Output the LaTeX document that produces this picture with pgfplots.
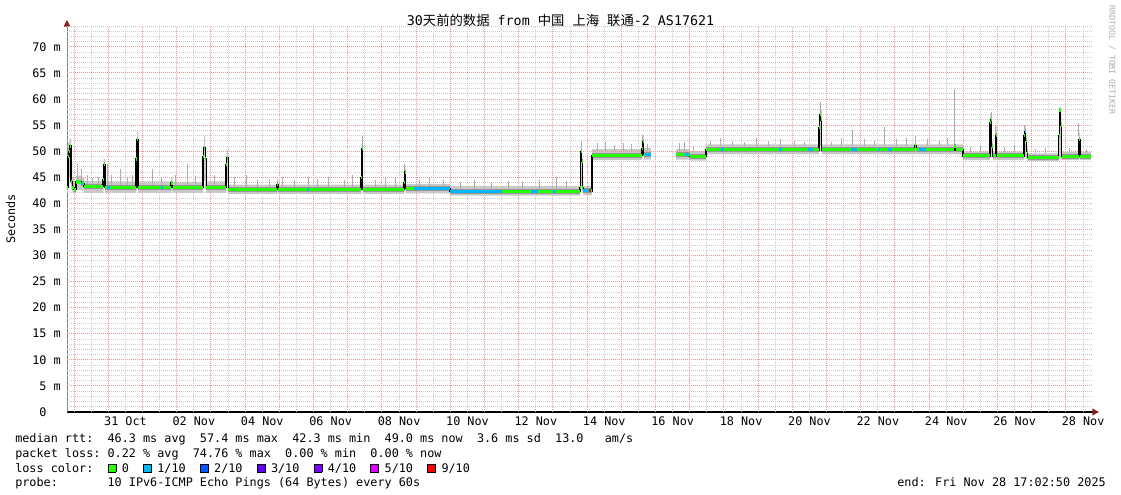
\documentclass[border=0pt]{standalone}
\usepackage{pgfplots}
\pgfplotsset{compat=1.18}
\usepackage{pgfplotstable}
\usepgfplotslibrary{fillbetween}
\usetikzlibrary{arrows.meta}
\usepackage{fontspec}
\setmainfont{DejaVu Sans Mono}
\newfontfamily\cjk{Noto Sans CJK SC}

\definecolor{gridred}{RGB}{240,150,150}
\definecolor{gridgray}{RGB}{205,205,205}
\definecolor{smoke}{RGB}{200,200,200}
\definecolor{smokedark}{RGB}{150,150,150}
\definecolor{spike}{RGB}{172,172,172}
\definecolor{arrowred}{RGB}{140,30,30}
\definecolor{loss0}{HTML}{26FF00}
\definecolor{loss1}{HTML}{00B8FF}
\definecolor{loss2}{HTML}{0059FF}
\definecolor{loss3}{HTML}{5E00FF}
\definecolor{loss4}{HTML}{7E00FF}
\definecolor{loss5}{HTML}{DD00FF}
\definecolor{loss9}{HTML}{FF0000}

\newcommand\txt{\fontsize{8.85pt}{10pt}\selectfont}
\newcommand\lbox[1]{\makebox[0.602em][l]{\fboxsep=0pt\fboxrule=0.6pt\fcolorbox{black}{#1}{\rule{0pt}{5.4pt}\rule{5.4pt}{0pt}}}}

% x in days after 30 Oct 00:00
\pgfplotstableread{
x med lo hi
-0.21 43.0 42.0 44.5
-0.18 49.0 44.0 51.5
-0.15 50.0 45.0 52.0
-0.12 51.0 45.5 52.5
-0.09 44.2 42.5 48.0
-0.05 43.0 42.0 45.0
-0.01 42.6 41.8 44.0
0.05 44.1 42.6 45.3
0.20 43.8 42.5 45.0
0.29 43.2 42.0 44.3
0.84 44.5 42.3 46.0
0.86 47.4 43.0 48.6
0.90 43.1 42.0 44.2
1.81 48.5 42.5 50.0
1.83 52.2 44.0 54.0
1.87 43.1 42.0 44.2
2.83 43.9 42.3 45.0
2.88 43.0 42.0 44.1
3.77 49.0 43.0 51.0
3.79 50.6 44.5 53.0
3.83 48.5 43.0 50.2
3.86 43.1 42.0 44.2
4.44 47.5 43.0 49.0
4.46 48.7 44.0 50.2
4.51 42.6 41.8 43.6
5.93 43.6 42.0 44.6
5.97 42.6 41.8 43.6
8.39 45.0 42.3 47.0
8.41 50.5 43.0 51.5
8.44 42.7 41.8 43.6
9.64 44.0 42.2 45.0
9.66 46.0 42.5 47.0
9.69 42.8 41.9 43.7
10.99 42.3 41.5 43.3
14.79 43.0 42.0 44.0
14.81 50.0 43.0 51.0
14.84 48.0 42.5 49.5
14.86 43.0 42.0 44.3
14.89 42.4 41.6 43.3
15.14 49.2 48.3 50.4
16.60 50.5 48.5 52.0
16.62 51.8 49.0 53.2
16.65 49.4 48.4 50.6
16.86 49.4 48.4 50.6
}\dataA

\pgfplotstableread{
x med lo hi
17.60 49.3 48.4 50.4
18.00 49.0 48.2 50.0
18.47 50.25 49.4 51.3
21.78 54.5 50.0 56.0
21.80 57.0 51.0 59.2
21.83 56.0 50.5 58.0
21.86 50.25 49.4 51.3
24.58 51.0 49.5 52.0
24.62 50.25 49.4 51.3
25.74 50.9 49.5 51.5
25.77 50.25 49.4 51.3
25.99 49.1 48.3 49.9
26.78 55.5 49.0 57.0
26.80 56.0 49.5 57.4
26.83 51.0 48.8 52.0
26.86 49.1 48.3 49.9
26.95 53.0 48.5 55.0
26.97 49.1 48.3 49.9
27.77 53.0 48.6 54.0
27.79 53.8 49.0 55.0
27.82 52.0 48.6 53.0
27.85 50.0 48.3 51.0
27.88 48.85 48.1 49.6
28.79 53.0 48.5 54.5
28.81 57.9 49.0 58.5
28.84 55.0 48.5 56.5
28.87 49.0 48.3 49.8
29.38 52.2 48.5 53.5
29.41 49.0 48.3 49.8
29.72 49.0 48.3 49.8
}\dataB

\begin{document}
\begin{tikzpicture}
\path (0,0) rectangle (840.75pt,370.5pt);
\begin{axis}[
  at={(50.25pt,61.5pt)}, anchor=south west,
  scale only axis, width=769.5pt, height=289.5pt,
  xmin=-0.21, xmax=29.79, ymin=0, ymax=74,
  axis x line*=bottom, axis y line*=left,
  x axis line style={color=black, line width=1.1pt, shorten >=-4.5pt, -{Triangle[length=5pt,width=5pt,color=arrowred]}},
  y axis line style={color=gray, line width=0.75pt, shorten >=-4.5pt, -{Triangle[length=5pt,width=5pt,color=arrowred]}},
  xtick={0,1,...,29}, xticklabel={\relax},
  extra x ticks={1.5,3.5,5.5,7.5,9.5,11.5,13.5,15.5,17.5,19.5,21.5,23.5,25.5,27.5,29.5},
  extra x tick labels={31 Oct,02 Nov,04 Nov,06 Nov,08 Nov,10 Nov,12 Nov,14 Nov,16 Nov,18 Nov,20 Nov,22 Nov,24 Nov,26 Nov,28 Nov},
  extra x tick style={grid=none, xticklabel style={anchor=base, inner sep=0pt, yshift=-9.75pt}},
  ytick={0,5,...,70},
  yticklabels={\hphantom{0}0\hphantom{~m},\hphantom{0}5~m,10~m,15~m,20~m,25~m,30~m,35~m,40~m,45~m,50~m,55~m,60~m,65~m,70~m},
  yticklabel style={anchor=east, inner sep=0pt, xshift=-4.5pt},
  tick label style={font=\txt},
  tick align=inside, major tick length=0pt, minor tick length=0pt,
  unbounded coords=jump,
]
% grid: minor (grey) then major (red), dotted
\addplot[gridgray, line width=0.65pt, dash pattern=on 0.75pt off 0.75pt, ycomb, mark=none, forget plot] coordinates {
(0.5,74)(1.5,74)(2.5,74)(3.5,74)(4.5,74)(5.5,74)(6.5,74)(7.5,74)(8.5,74)(9.5,74)
(10.5,74)(11.5,74)(12.5,74)(13.5,74)(14.5,74)(15.5,74)(16.5,74)(17.5,74)(18.5,74)(19.5,74)
(20.5,74)(21.5,74)(22.5,74)(23.5,74)(24.5,74)(25.5,74)(26.5,74)(27.5,74)(28.5,74)(29.5,74)};
\addplot[gridgray, line width=0.65pt, dash pattern=on 0.75pt off 0.75pt, mark=none, forget plot] coordinates {
(-0.21,1)(29.79,1)(29.79,nan)(-0.21,2)(29.79,2)(29.79,nan)(-0.21,3)(29.79,3)(29.79,nan)(-0.21,4)(29.79,4)(29.79,nan)
(-0.21,6)(29.79,6)(29.79,nan)(-0.21,7)(29.79,7)(29.79,nan)(-0.21,8)(29.79,8)(29.79,nan)(-0.21,9)(29.79,9)(29.79,nan)
(-0.21,11)(29.79,11)(29.79,nan)(-0.21,12)(29.79,12)(29.79,nan)(-0.21,13)(29.79,13)(29.79,nan)(-0.21,14)(29.79,14)(29.79,nan)
(-0.21,16)(29.79,16)(29.79,nan)(-0.21,17)(29.79,17)(29.79,nan)(-0.21,18)(29.79,18)(29.79,nan)(-0.21,19)(29.79,19)(29.79,nan)
(-0.21,21)(29.79,21)(29.79,nan)(-0.21,22)(29.79,22)(29.79,nan)(-0.21,23)(29.79,23)(29.79,nan)(-0.21,24)(29.79,24)(29.79,nan)
(-0.21,26)(29.79,26)(29.79,nan)(-0.21,27)(29.79,27)(29.79,nan)(-0.21,28)(29.79,28)(29.79,nan)(-0.21,29)(29.79,29)(29.79,nan)
(-0.21,31)(29.79,31)(29.79,nan)(-0.21,32)(29.79,32)(29.79,nan)(-0.21,33)(29.79,33)(29.79,nan)(-0.21,34)(29.79,34)(29.79,nan)
(-0.21,36)(29.79,36)(29.79,nan)(-0.21,37)(29.79,37)(29.79,nan)(-0.21,38)(29.79,38)(29.79,nan)(-0.21,39)(29.79,39)(29.79,nan)
(-0.21,41)(29.79,41)(29.79,nan)(-0.21,42)(29.79,42)(29.79,nan)(-0.21,43)(29.79,43)(29.79,nan)(-0.21,44)(29.79,44)(29.79,nan)
(-0.21,46)(29.79,46)(29.79,nan)(-0.21,47)(29.79,47)(29.79,nan)(-0.21,48)(29.79,48)(29.79,nan)(-0.21,49)(29.79,49)(29.79,nan)
(-0.21,51)(29.79,51)(29.79,nan)(-0.21,52)(29.79,52)(29.79,nan)(-0.21,53)(29.79,53)(29.79,nan)(-0.21,54)(29.79,54)(29.79,nan)
(-0.21,56)(29.79,56)(29.79,nan)(-0.21,57)(29.79,57)(29.79,nan)(-0.21,58)(29.79,58)(29.79,nan)(-0.21,59)(29.79,59)(29.79,nan)
(-0.21,61)(29.79,61)(29.79,nan)(-0.21,62)(29.79,62)(29.79,nan)(-0.21,63)(29.79,63)(29.79,nan)(-0.21,64)(29.79,64)(29.79,nan)
(-0.21,66)(29.79,66)(29.79,nan)(-0.21,67)(29.79,67)(29.79,nan)(-0.21,68)(29.79,68)(29.79,nan)(-0.21,69)(29.79,69)(29.79,nan)
(-0.21,71)(29.79,71)(29.79,nan)(-0.21,72)(29.79,72)(29.79,nan)(-0.21,73)(29.79,73)(29.79,nan)(-0.21,74)(29.79,74)};
\addplot[gridred, line width=0.75pt, dash pattern=on 0.75pt off 0.75pt, ycomb, mark=none, forget plot] coordinates {
(0,74)(1,74)(2,74)(3,74)(4,74)(5,74)(6,74)(7,74)(8,74)(9,74)
(10,74)(11,74)(12,74)(13,74)(14,74)(15,74)(16,74)(17,74)(18,74)(19,74)
(20,74)(21,74)(22,74)(23,74)(24,74)(25,74)(26,74)(27,74)(28,74)(29,74)};
\addplot[gridred, line width=0.75pt, dash pattern=on 0.75pt off 0.75pt, mark=none, forget plot] coordinates {
(-0.21,5)(29.79,5)(29.79,nan)(-0.21,10)(29.79,10)(29.79,nan)(-0.21,15)(29.79,15)(29.79,nan)
(-0.21,20)(29.79,20)(29.79,nan)(-0.21,25)(29.79,25)(29.79,nan)(-0.21,30)(29.79,30)(29.79,nan)
(-0.21,35)(29.79,35)(29.79,nan)(-0.21,40)(29.79,40)(29.79,nan)(-0.21,45)(29.79,45)(29.79,nan)
(-0.21,50)(29.79,50)(29.79,nan)(-0.21,55)(29.79,55)(29.79,nan)(-0.21,60)(29.79,60)(29.79,nan)
(-0.21,65)(29.79,65)(29.79,nan)(-0.21,70)(29.79,70)};
% smoke bands
\addplot[name path=hA, draw=none, const plot, forget plot] table[x=x,y=hi]{\dataA};
\addplot[name path=lA, draw=none, const plot, forget plot] table[x=x,y=lo]{\dataA};
\addplot[smoke, forget plot] fill between[of=hA and lA];
\addplot[name path=hB, draw=none, const plot, forget plot] table[x=x,y=hi]{\dataB};
\addplot[name path=lB, draw=none, const plot, forget plot] table[x=x,y=lo]{\dataB};
\addplot[smoke, forget plot] fill between[of=hB and lB];
% outlier smoke
\addplot[spike, line width=0.75pt, forget plot] coordinates {
(0.10,44.0)(0.10,47.5)(0.10,nan)
(0.20,44.0)(0.20,46.5)(0.20,nan)
(0.40,43.5)(0.40,45.5)(0.40,nan)
(0.55,43.5)(0.55,44.8)(0.55,nan)
(0.70,43.5)(0.70,45.0)(0.70,nan)
(0.97,43.5)(0.97,47.5)(0.97,nan)
(1.10,43.5)(1.10,45.5)(1.10,nan)
(1.35,43.5)(1.35,46.5)(1.35,nan)
(1.55,43.5)(1.55,44.8)(1.55,nan)
(1.70,43.5)(1.70,45.5)(1.70,nan)
(2.30,43.5)(2.30,46.5)(2.30,nan)
(2.55,43.5)(2.55,45.0)(2.55,nan)
(2.95,43.5)(2.95,45.5)(2.95,nan)
(3.30,43.5)(3.30,47.5)(3.30,nan)
(3.55,43.5)(3.55,45.2)(3.55,nan)
(4.10,43.5)(4.10,45.5)(4.10,nan)
(4.70,43.0)(4.70,45.0)(4.70,nan)
(5.05,43.0)(5.05,45.5)(5.05,nan)
(5.35,43.0)(5.35,44.5)(5.35,nan)
(5.70,43.0)(5.70,44.6)(5.70,nan)
(6.10,43.0)(6.10,45.0)(6.10,nan)
(6.45,43.0)(6.45,44.5)(6.45,nan)
(6.85,43.0)(6.85,45.0)(6.85,nan)
(7.10,43.0)(7.10,44.6)(7.10,nan)
(7.45,43.0)(7.45,45.0)(7.45,nan)
(7.90,43.0)(7.90,44.5)(7.90,nan)
(8.15,43.0)(8.15,45.5)(8.15,nan)
(8.42,47.0)(8.42,53.0)(8.42,nan)
(8.80,43.0)(8.80,44.5)(8.80,nan)
(9.10,43.0)(9.10,45.0)(9.10,nan)
(9.40,43.0)(9.40,44.8)(9.40,nan)
(9.67,46.0)(9.67,47.5)(9.67,nan)
(10.10,43.2)(10.10,44.5)(10.10,nan)
(10.40,43.2)(10.40,45.0)(10.40,nan)
(10.80,43.0)(10.80,44.5)(10.80,nan)
(11.30,42.8)(11.30,44.0)(11.30,nan)
(11.70,42.8)(11.70,44.5)(11.70,nan)
(12.20,42.8)(12.20,44.0)(12.20,nan)
(12.70,42.8)(12.70,44.3)(12.70,nan)
(13.10,42.8)(13.10,44.0)(13.10,nan)
(13.60,42.8)(13.60,44.5)(13.60,nan)
(14.10,42.8)(14.10,45.0)(14.10,nan)
(14.40,42.8)(14.40,44.2)(14.40,nan)
(14.82,48.0)(14.82,52.0)(14.82,nan)
(15.30,50.0)(15.30,51.5)(15.30,nan)
(15.55,50.0)(15.55,51.8)(15.55,nan)
(15.80,50.0)(15.80,51.2)(15.80,nan)
(16.05,50.0)(16.05,51.6)(16.05,nan)
(16.30,50.0)(16.30,51.3)(16.30,nan)
(16.63,52.0)(16.63,53.2)(16.63,nan)
(16.75,50.0)(16.75,51.3)(16.75,nan)
(17.70,50.0)(17.70,51.5)(17.70,nan)
(17.85,50.0)(17.85,51.8)(17.85,nan)
(18.10,50.0)(18.10,51.0)(18.10,nan)
(18.60,51.0)(18.60,52.0)(18.60,nan)
(18.90,51.0)(18.90,52.5)(18.90,nan)
(19.25,51.0)(19.25,52.0)(19.25,nan)
(19.60,51.0)(19.60,51.8)(19.60,nan)
(19.95,51.0)(19.95,52.6)(19.95,nan)
(20.30,51.0)(20.30,52.0)(20.30,nan)
(20.65,51.0)(20.65,52.3)(20.65,nan)
(21.05,51.0)(21.05,52.0)(21.05,nan)
(21.35,51.0)(21.35,51.8)(21.35,nan)
(21.81,57.0)(21.81,59.5)(21.81,nan)
(22.15,51.0)(22.15,51.8)(22.15,nan)
(22.45,51.0)(22.45,52.5)(22.45,nan)
(22.75,51.0)(22.75,54.0)(22.75,nan)
(23.10,51.0)(23.10,52.3)(23.10,nan)
(23.40,51.0)(23.40,52.0)(23.40,nan)
(23.70,51.0)(23.70,54.7)(23.70,nan)
(24.05,51.0)(24.05,52.3)(24.05,nan)
(24.35,51.0)(24.35,52.5)(24.35,nan)
(24.60,51.0)(24.60,53.0)(24.60,nan)
(24.95,51.0)(24.95,52.4)(24.95,nan)
(25.30,51.0)(25.30,52.2)(25.30,nan)
(25.55,51.0)(25.55,52.5)(25.55,nan)
(25.75,51.0)(25.75,62.0)(25.75,nan)
(26.20,49.8)(26.20,50.8)(26.20,nan)
(26.50,49.8)(26.50,51.0)(26.50,nan)
(26.81,56.0)(26.81,57.6)(26.81,nan)
(26.95,49.8)(26.95,54.8)(26.95,nan)
(27.20,49.8)(27.20,50.9)(27.20,nan)
(27.50,49.8)(27.50,51.2)(27.50,nan)
(27.80,54.0)(27.80,55.0)(27.80,nan)
(28.10,49.6)(28.10,50.5)(28.10,nan)
(28.40,49.6)(28.40,50.6)(28.40,nan)
(28.82,57.0)(28.82,58.0)(28.82,nan)
(29.10,49.7)(29.10,50.6)(29.10,nan)
(29.38,53.0)(29.38,55.4)(29.38,nan)
(29.60,49.7)(29.60,50.5)
};
% dense smoke around median
\addplot[smokedark, line width=3.6pt, jump mark left, mark=none, forget plot] table[x=x,y=med]{\dataA};
\addplot[smokedark, line width=3.6pt, jump mark left, mark=none, forget plot] table[x=x,y=med]{\dataB};
% median
\addplot[black, line width=1pt, const plot, forget plot] table[x=x,y=med]{\dataA};
\addplot[black, line width=1pt, const plot, forget plot] table[x=x,y=med]{\dataB};
\addplot[loss0, line width=2.3pt, jump mark left, mark=none, forget plot] table[x=x,y=med]{\dataA};
\addplot[loss0, line width=2.3pt, jump mark left, mark=none, forget plot] table[x=x,y=med]{\dataB};
% 1/10 loss segments
\addplot[loss1, line width=2.3pt, forget plot] coordinates {
(0.20,43.8)(0.26,43.8)(0.26,nan)
(0.97,43.1)(1.05,43.1)(1.05,nan)
(2.55,43.1)(2.60,43.1)(2.60,nan)
(6.80,42.6)(6.86,42.6)(6.86,nan)
(9.95,42.8)(10.99,42.8)(10.99,nan)
(10.99,42.3)(12.50,42.3)(12.50,nan)
(13.35,42.3)(13.55,42.3)(13.55,nan)
(14.00,42.3)(14.10,42.3)(14.10,nan)
(14.89,42.4)(15.04,42.4)(15.04,nan)
(16.68,49.4)(16.86,49.4)(16.86,nan)
(17.85,49.3)(17.97,49.3)(17.97,nan)
(18.90,50.25)(19.00,50.25)(19.00,nan)
(20.60,50.25)(20.70,50.25)(20.70,nan)
(21.45,50.25)(21.60,50.25)(21.60,nan)
(22.70,50.25)(22.90,50.25)(22.90,nan)
(23.50,50.25)(23.56,50.25)(23.56,nan)
(23.80,50.25)(23.92,50.25)(23.92,nan)
(24.70,50.25)(24.90,50.25)(24.90,nan)
(27.79,53.8)(27.82,53.8)
};
% 9/10 loss
\addplot[loss9, line width=2.3pt, forget plot] coordinates {(15.06,42.4)(15.10,42.4)};
\end{axis}
% title and texts
\node[anchor=base, font=\fontsize{10pt}{12pt}\selectfont] at (420.4pt,351pt)
  {30{\cjk 天前的数据} from {\cjk 中国} {\cjk 上海} {\cjk 联通}-2 AS17621};
\node[rotate=90, anchor=base, font=\txt] at (11.25pt,206.25pt) {Seconds};
\node[rotate=-90, anchor=west, inner sep=0pt, text={rgb,255:red,175;green,175;blue,175}, font=\fontsize{6.2pt}{7pt}\selectfont] at (834pt,366.75pt) {RRDTOOL / TOBI OETIKER};
\node[anchor=base west, inner sep=0pt, font=\txt] at (11.25pt,38.3pt)
  {median rtt:~~46.3 ms avg~~57.4 ms max~~42.3 ms min~~49.0 ms now~~3.6 ms sd~~13.0~~~am/s};
\node[anchor=base west, inner sep=0pt, font=\txt] at (11.25pt,27.4pt)
  {packet loss:~0.22 \% avg~~74.76 \% max~~0.00 \% min~~0.00 \% now};
\node[anchor=base west, inner sep=0pt, font=\txt] at (11.25pt,16.5pt)
  {loss color:~~\lbox{loss0}~0~~\lbox{loss1}~1/10~~\lbox{loss2}~2/10~~\lbox{loss3}~3/10~~\lbox{loss4}~4/10~~\lbox{loss5}~5/10~~\lbox{loss9}~9/10};
\node[anchor=base west, inner sep=0pt, font=\txt] at (11.25pt,5.6pt)
  {probe:~~~~~~~10 IPv6-ICMP Echo Pings (64 Bytes) every 60s};
\node[anchor=base east, inner sep=0pt, font=\txt] at (829.5pt,5.6pt)
  {end: Fri Nov 28 17:02:50 2025};
\end{tikzpicture}
\end{document}
